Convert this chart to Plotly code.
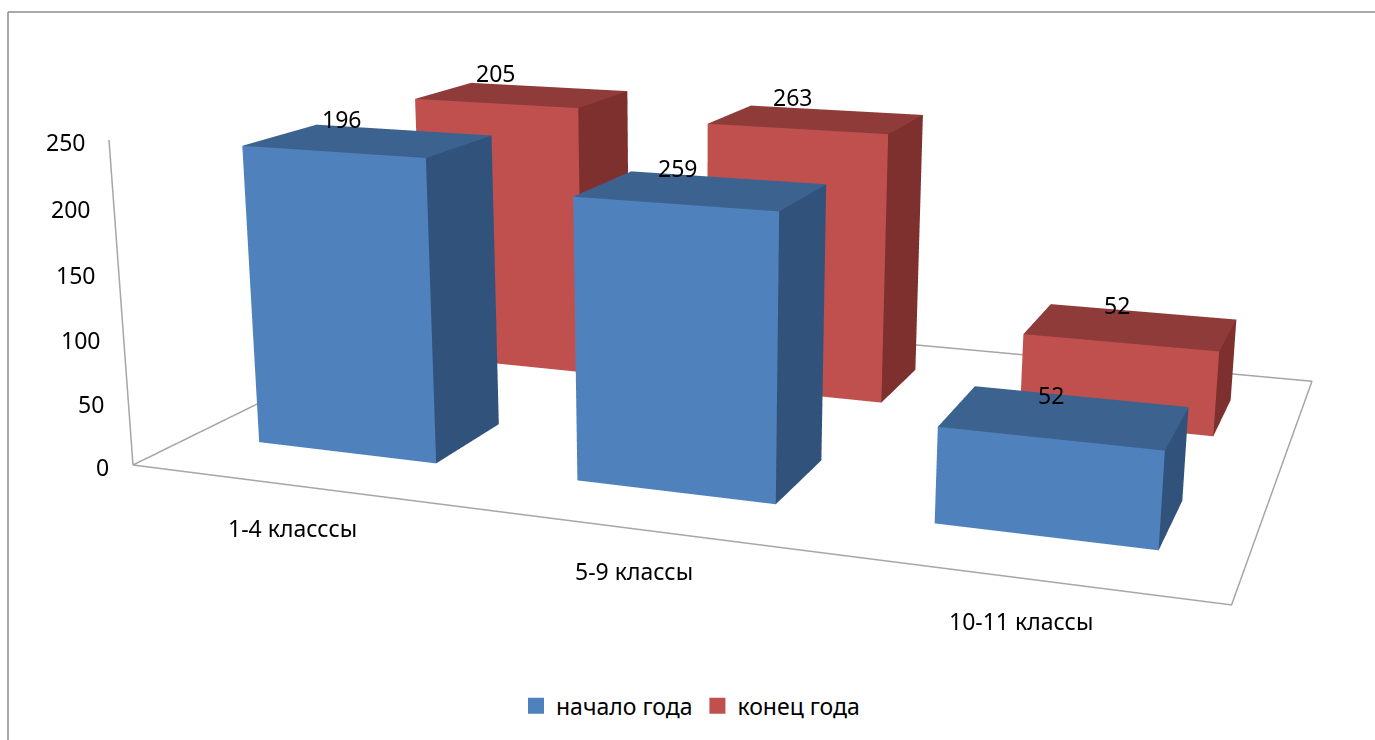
import numpy as np
import plotly.graph_objects as go

categories = ["1-4 класссы", "5-9 классы", "10-11 классы"]
series_names = ["начало года", "конец года"]
# numbers printed on the chart
start_labels = [196, 259, 52]
end_labels = [205, 263, 52]
# heights of the columns as drawn, read against the value axis
start_heights = [236, 215, 71]
end_heights = [234, 227, 70]
z_ticks = [0, 50, 100, 150, 200, 250]

W_PX, H_PX = 1375, 740
FOCAL = (H_PX / 2) / np.tan(np.pi / 8)
BAR_W, BAR_D = 0.57, 0.395
LABEL_XSHIFT = [-27, -24, -14]

# viewing geometry of the chart floor and value axis (picture space)
FLOOR = [(133, 465), (1232, 604), (1313, 379), (462, 302)]
AXIS_TOP = (109, 140)
VP3_Y = 8000.0


def floor_h(pts):
    src = [(0, 0), (1, 0), (1, 1), (0, 1)]
    M, b = [], []
    for (a, c), (u, v) in zip(src, pts):
        M.append([a, c, 1, 0, 0, 0, -a * u, -c * u]); b.append(u)
        M.append([0, 0, 0, a, c, 1, -a * v, -c * v]); b.append(v)
    h = np.linalg.solve(np.array(M, float), np.array(b, float))
    return np.array([[h[0], h[1], h[2]], [h[3], h[4], h[5]], [h[6], h[7], 1.0]])


H = floor_h(FLOOR)
o = H[:, 2]
c3 = (AXIS_TOP[1] * o[2] - o[1]) / (250 * (VP3_Y - AXIS_TOP[1]))
vx = (AXIS_TOP[0] * (o[2] + 250 * c3) - o[0]) / (250 * c3)
P = np.column_stack([H[:, 0], H[:, 1], c3 * np.array([vx, VP3_Y, 1.0]), o])
K = np.array([[FOCAL, 0, W_PX / 2], [0, FOCAL, H_PX / 2], [0, 0, 1.0]])
Mc = np.linalg.inv(K) @ P

hz = 0.5 * (H[1, 0] / H[2, 0] + H[1, 1] / H[2, 1])
pitch = np.arctan((H_PX / 2 - hz) / FOCAL)
sp, cp = np.sin(pitch), np.cos(pitch)
Rt = np.column_stack([[1, 0, 0], [0, -sp, -cp], [0, cp, -sp]])
fwd = np.array([0, cp, -sp])
wc = np.linalg.inv(H) @ np.array([W_PX / 2, H_PX / 2, 1.0])
wc = 1.0 / wc[2]


def world(x, y, z, dist):
    q = Mc @ np.array([x, y, z, 1.0])
    return -dist * fwd + (dist / wc) * (Rt @ q)


ext = [world(a, b, c, 1.0) for a in (0, 1) for b in (0, 1) for c in (0, 250)]
DIST = 0.45 / np.max(np.abs(np.array(ext)[:, :2]))
Z0 = world(0, 0, 0, DIST)[2]
Z1 = world(0, 0, 250, DIST)[2]
alpha = (Z1 - Z0) / 250
z_mid = -Z0 / alpha
z_span = 1 / alpha


def pos(x, y, z):
    w = world(x, y, z, DIST)
    return w[0], w[1], z


def bar(ix, row, height):
    cx = (ix + 0.5) / len(categories)
    cy = (row + 0.5) / len(series_names)
    hw = BAR_W / len(categories) / 2
    hd = BAR_D / len(series_names) / 2
    corners = [(cx + a * hw, cy + b * hd, c)
               for c in (0, height) for b in (-1, 1) for a in (-1, 1)]
    return [pos(*q) for q in corners]


FACES = [((0, 1, 5), 0), ((0, 5, 4), 0), ((1, 3, 7), 1), ((1, 7, 5), 1), ((4, 5, 7), 2), ((4, 7, 6), 2)]
PALETTES = [("#4F81BD", "#31527B", "#3C6290"), ("#C0504D", "#7D302E", "#8F3B39")]

fig = go.Figure()
for row, (heights, pal) in enumerate(zip([start_heights, end_heights], PALETTES)):
    xs, ys, zs, ii, jj, kk, fc = [], [], [], [], [], [], []
    for ix, h in enumerate(heights):
        base = len(xs)
        for q in bar(ix, row, h):
            xs.append(q[0]); ys.append(q[1]); zs.append(q[2])
        for (a, b, c), tone in FACES:
            ii.append(base + a); jj.append(base + b); kk.append(base + c); fc.append(pal[tone])
    fig.add_trace(go.Mesh3d(x=xs, y=ys, z=zs, i=ii, j=jj, k=kk, facecolor=fc, flatshading=True,
                            lighting=dict(ambient=1, diffuse=0, specular=0, fresnel=0, roughness=1),
                            hoverinfo="skip", showlegend=False))

frame = [(0, 0, 0), (1, 0, 0), (1, 1, 0), (0, 1, 0), (0, 0, 0), (0, 0, 250)]
fp = [pos(*q) for q in frame]
fig.add_trace(go.Scatter3d(x=[q[0] for q in fp], y=[q[1] for q in fp], z=[q[2] for q in fp], mode="lines",
                           line=dict(color="#A6A6A6", width=3), hoverinfo="skip", showlegend=False))

for name, color in zip(series_names, ["#4F81BD", "#C0504D"]):
    fig.add_trace(go.Scatter(x=[None], y=[None], mode="markers", name=name,
                             marker=dict(symbol="square", size=16, color=color)))

FONT = dict(family="Noto Sans", size=23, color="#000000")
ann = []
for v in z_ticks:
    q = pos(0, 0, v)
    ann.append(dict(x=q[0], y=q[1], z=q[2], text=str(v), showarrow=False, xanchor="right", xshift=-22, yshift=-2, font=FONT))
for i, name in enumerate(categories):
    q = pos((i + 0.5) / len(categories), 0, 0)
    ann.append(dict(x=q[0], y=q[1], z=q[2], text=name, showarrow=False, xshift=3, yshift=-43, font=FONT))
for row, (labels, heights) in enumerate(zip([start_labels, end_labels], [start_heights, end_heights])):
    for i, (lab, h) in enumerate(zip(labels, heights)):
        q = pos((i + 0.5) / len(categories), (row + 0.5) / len(series_names), h)
        ann.append(dict(x=q[0], y=q[1], z=q[2], text=str(lab), showarrow=False, xshift=LABEL_XSHIFT[i], yshift=22, font=FONT))

hidden = dict(visible=False, showgrid=False, zeroline=False, showbackground=False, showspikes=False)
eye = -DIST * fwd
fig.update_layout(
    width=W_PX, height=H_PX, margin=dict(l=0, r=0, t=0, b=0), paper_bgcolor="white", plot_bgcolor="white",
    xaxis=dict(visible=False), yaxis=dict(visible=False),
    scene=dict(domain=dict(x=[0, 1], y=[0, 1]), aspectmode="manual", aspectratio=dict(x=1, y=1, z=1),
               xaxis=dict(range=[-0.5, 0.5], **hidden), yaxis=dict(range=[-0.5, 0.5], **hidden),
               zaxis=dict(range=[z_mid - z_span / 2, z_mid + z_span / 2], **hidden),
               camera=dict(eye=dict(x=eye[0], y=eye[1], z=eye[2]), center=dict(x=0, y=0, z=0), up=dict(x=0, y=0, z=1)),
               annotations=ann),
    legend=dict(orientation="h", x=0.5 + 3 / W_PX, xanchor="center", y=0.017, yanchor="bottom", font=FONT),
    shapes=[dict(type="line", xref="paper", yref="paper", x0=8 / W_PX, x1=1, y0=1 - 12 / H_PX, y1=1 - 12 / H_PX, line=dict(color="#8C8C8C", width=1.5)),
            dict(type="line", xref="paper", yref="paper", x0=8 / W_PX, x1=8 / W_PX, y0=0, y1=1 - 12 / H_PX, line=dict(color="#8C8C8C", width=1.5))],
)
fig.write_html("out.html", config={"displayModeBar": False}, post_script="document.body.style.margin='0';")
